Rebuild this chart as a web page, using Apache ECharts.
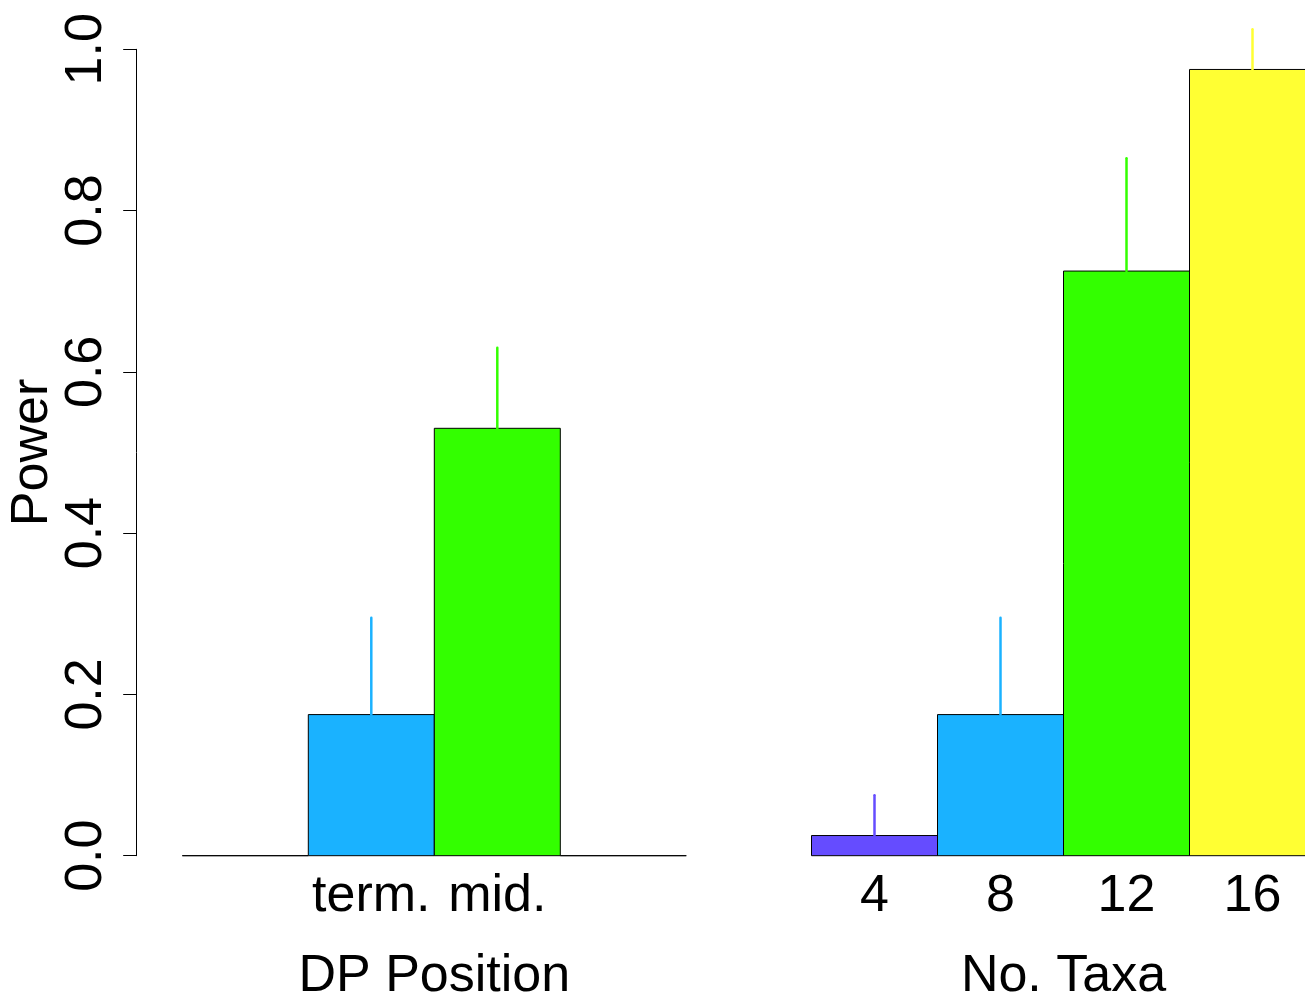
<!DOCTYPE html>
<html>
<head>
<meta charset="utf-8">
<script src="https://cdn.jsdelivr.net/npm/echarts@6/dist/echarts.min.js"></script>
<style>
  html, body { margin: 0; padding: 0; background: #ffffff; }
  #chart { width: 1305px; height: 998px; }
</style>
</head>
<body>
<div id="chart"></div>
<script>
// ---- data ----
const groupNames = ['DP Position', 'No. Taxa'];
const dpLabels = ['', 'term.', 'mid.', ''];
const dpPower = [0, 0.175, 0.53, 0];
const dpUpper = [0, 0.295, 0.63, 0];
const taxaLabels = ['4', '8', '12', '16'];
const taxaPower = [0.025, 0.175, 0.725, 0.975];
const taxaUpper = [0.075, 0.295, 0.865, 1.025];
const barColors = ['#654CFF', '#1AB2FF', '#33FF00', '#FFFF33'];
const yTickLabels = ['0.0', '0.2', '0.4', '0.6', '0.8', '1.0'];
const yStep = 0.2;

const FONT = "'Liberation Sans', Arial, Helvetica, sans-serif";
const FS = 52;

function buildData(power, upper) {
  return power.map((v, i) => [i, v, upper[i]]);
}

function renderBar(params, api) {
  const idx = api.value(0);
  const v = api.value(1);
  const up = api.value(2);
  const base = api.coord([idx, 0]);
  const top = api.coord([idx, v]);
  const errTop = api.coord([idx, up]);
  const w = api.size([1, 0])[0];
  const color = barColors[params.dataIndex % barColors.length];
  return {
    type: 'group',
    children: [
      {
        type: 'rect',
        shape: { x: base[0] - w / 2, y: top[1], width: w, height: base[1] - top[1] },
        style: { fill: color, stroke: '#000000', lineWidth: 1 }
      },
      {
        type: 'line',
        shape: { x1: base[0], y1: top[1], x2: base[0], y2: errTop[1] },
        style: { stroke: color, lineWidth: 2.5, lineCap: 'round' }
      }
    ]
  };
}

const xAxisCommon = {
  type: 'category',
  axisLine: { show: false },
  axisTick: { show: false },
  splitLine: { show: false },
  axisLabel: { interval: 0, margin: 14.5, fontSize: FS, fontFamily: FONT, color: '#000' },
  nameLocation: 'middle',
  nameGap: 94.5,
  nameTextStyle: { fontSize: FS, fontFamily: FONT, color: '#000' }
};

const option = {
  backgroundColor: '#ffffff',
  animation: false,
  grid: [
    { left: 182.3, top: 49.3, width: 504, height: 806.4, outerBoundsMode: 'none', containLabel: false },
    { left: 811.5, top: 49.3, width: 504, height: 806.4, outerBoundsMode: 'none', containLabel: false }
  ],
  xAxis: [
    Object.assign({}, xAxisCommon, { gridIndex: 0, data: dpLabels, name: groupNames[0] }),
    Object.assign({}, xAxisCommon, { gridIndex: 1, data: taxaLabels, name: groupNames[1] })
  ],
  yAxis: [
    {
      type: 'value', gridIndex: 0, min: 0, max: 1, interval: yStep,
      offset: 45.6,
      name: 'Power', nameLocation: 'middle', nameRotate: 90, nameGap: 78,
      nameTextStyle: { fontSize: FS, fontFamily: FONT, color: '#000' },
      axisLine: { show: true, lineStyle: { color: '#000', width: 1 } },
      axisTick: { show: true, length: 13.5, lineStyle: { color: '#000', width: 1 } },
      splitLine: { show: false },
      axisLabel: {
        rotate: 90, margin: 24, fontSize: FS, fontFamily: FONT, color: '#000',
        formatter: (v) => yTickLabels[Math.round(v / yStep)]
      }
    },
    {
      type: 'value', gridIndex: 1, min: 0, max: 1, interval: yStep, show: false
    }
  ],
  series: [
    {
      type: 'custom', xAxisIndex: 0, yAxisIndex: 0, clip: false,
      renderItem: renderBar, data: buildData(dpPower, dpUpper)
    },
    {
      type: 'custom', xAxisIndex: 1, yAxisIndex: 1, clip: false,
      renderItem: renderBar, data: buildData(taxaPower, taxaUpper)
    }
  ]
};

const chart = echarts.init(document.getElementById('chart'), null, { renderer: 'canvas' });
chart.setOption(option);
</script>
</body>
</html>
